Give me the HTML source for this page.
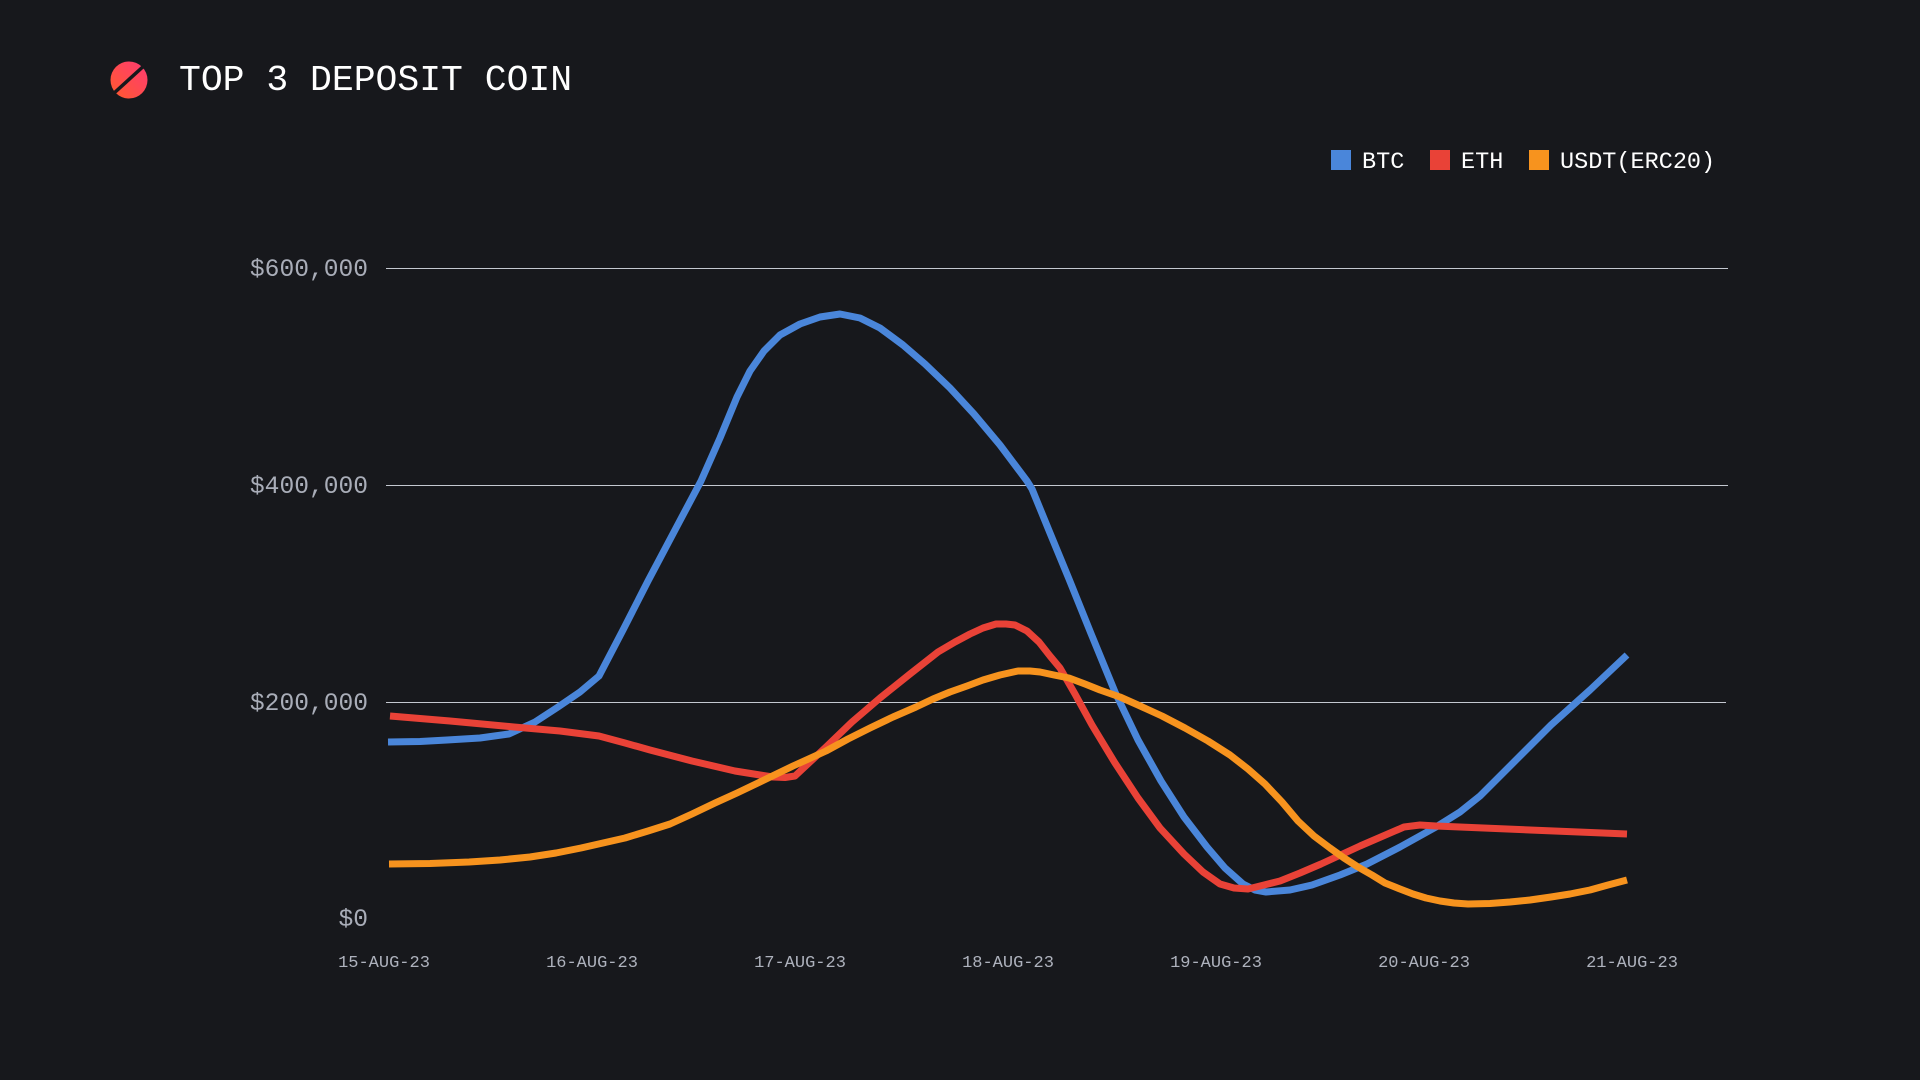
<!DOCTYPE html>
<html>
<head>
<meta charset="utf-8">
<style>
  html, body { margin:0; padding:0; background:#17181c; }
  body { width:1920px; height:1080px; overflow:hidden; }
  svg { display:block; }
  .mono { font-family: "Liberation Mono", "DejaVu Sans Mono", monospace; }
</style>
</head>
<body>
<svg width="1920" height="1080" viewBox="0 0 1920 1080" xmlns="http://www.w3.org/2000/svg">
  <defs>
    <linearGradient id="ig" x1="0" y1="1" x2="1" y2="0">
      <stop offset="0" stop-color="#ff5a2c"/>
      <stop offset="1" stop-color="#ff3a74"/>
    </linearGradient>
  </defs>
  <rect width="1920" height="1080" fill="#17181c"/>

  <!-- Title icon -->
  <circle cx="129" cy="80" r="18.5" fill="url(#ig)"/>
  <line x1="113" y1="94" x2="146" y2="64" stroke="#17181c" stroke-width="3.5"/>
  <text x="179" y="90" class="mono" font-size="36.4" fill="#ffffff">TOP 3 DEPOSIT COIN</text>

  <!-- Legend -->
  <rect x="1331" y="150" width="20" height="20" fill="#4a86da"/>
  <text x="1362" y="168" class="mono" font-size="23.5" fill="#ffffff">BTC</text>
  <rect x="1430" y="150" width="20" height="20" fill="#e94237"/>
  <text x="1461" y="168" class="mono" font-size="23.5" fill="#ffffff">ETH</text>
  <rect x="1529" y="150" width="20" height="20" fill="#f7931e"/>
  <text x="1560" y="168" class="mono" font-size="23.5" fill="#ffffff">USDT(ERC20)</text>

  <!-- Grid -->
  <g stroke="#c4c8d0" stroke-width="1">
    <line x1="386" y1="268.5" x2="1728" y2="268.5"/>
    <line x1="386" y1="485.5" x2="1728" y2="485.5"/>
    <line x1="386" y1="702.5" x2="1726" y2="702.5"/>
  </g>

  <!-- Y labels -->
  <g class="mono" font-size="24.6" fill="#a9adb8" text-anchor="end">
    <text x="368" y="276">$600,000</text>
    <text x="368" y="493">$400,000</text>
    <text x="368" y="710">$200,000</text>
    <text x="368" y="926">$0</text>
  </g>

  <!-- X labels -->
  <g class="mono" font-size="17" fill="#aeb2bd" text-anchor="middle">
    <text x="384" y="967">15-AUG-23</text>
    <text x="592" y="967">16-AUG-23</text>
    <text x="800" y="967">17-AUG-23</text>
    <text x="1008" y="967">18-AUG-23</text>
    <text x="1216" y="967">19-AUG-23</text>
    <text x="1424" y="967">20-AUG-23</text>
    <text x="1632" y="967">21-AUG-23</text>
  </g>

  <!-- Series -->
  <g fill="none" stroke-width="7" stroke-linejoin="round" stroke-linecap="butt">
    <polyline stroke="#4a86da" points="388,742 420,741.5 447,740 480,738 509,734 535,722 558,707 580,692 599,676 623,630 648,581 675,530 701,481 720,438 737,397 750,371 764,351 780,335 800,324 820,317 840,314 860,318 880,328 903,345 925,364 950,388 974,414 1000,445 1027,481 1032,489 1050,533 1069,579 1092,636 1115,692 1138,740 1161,781 1184,817 1207,847 1225,868 1243,884 1255,890 1266,892 1290,890 1312,885 1340,875 1367,864 1400,847 1436,827 1460,812 1480,796 1515,761 1551,725 1590,690 1627,655"/>
    <polyline stroke="#e94237" points="390,716 450,721 514,727 560,731 599,736 625,743 650,750 692,761 735,771 760,775 773,777 785,777.5 795,776 810,762 826,747 852,722 880,698 910,674 938,652 955,642 970,634 983,628 996,624 1006,624 1015,625 1027,631 1039,642 1050,656 1060,668 1075,694 1092,725 1115,763 1138,798 1160,828 1184,854 1203,872 1220,884 1234,888 1248,889 1264,885 1280,881 1300,873 1321,864 1360,846 1404,827 1420,825 1436,826 1530,830 1627,834"/>
    <polyline stroke="#f7931e" points="389,864 430,863.5 469,862 500,860 530,857 556,853 581,848 603,843 625,838 648,831 670,824 692,814 715,803 737,793 760,782 793,766 826,751 848,739 870,728 893,717 916,707 933,699 950,692 967,686 983,680 1000,675 1018,671 1030,671 1040,672 1054,675 1069,678 1085,684 1100,690 1120,697 1138,705 1162,716 1185,728 1208,741 1230,755 1248,769 1265,784 1282,802 1298,821 1314,836 1330,848 1344,858 1358,867 1372,875 1385,883 1400,889 1413,894 1426,898 1440,901 1454,903 1468,904 1490,903.5 1510,902 1530,900 1551,897 1570,894 1590,890 1608,885 1627,880"/>
  </g>
</svg>
</body>
</html>
